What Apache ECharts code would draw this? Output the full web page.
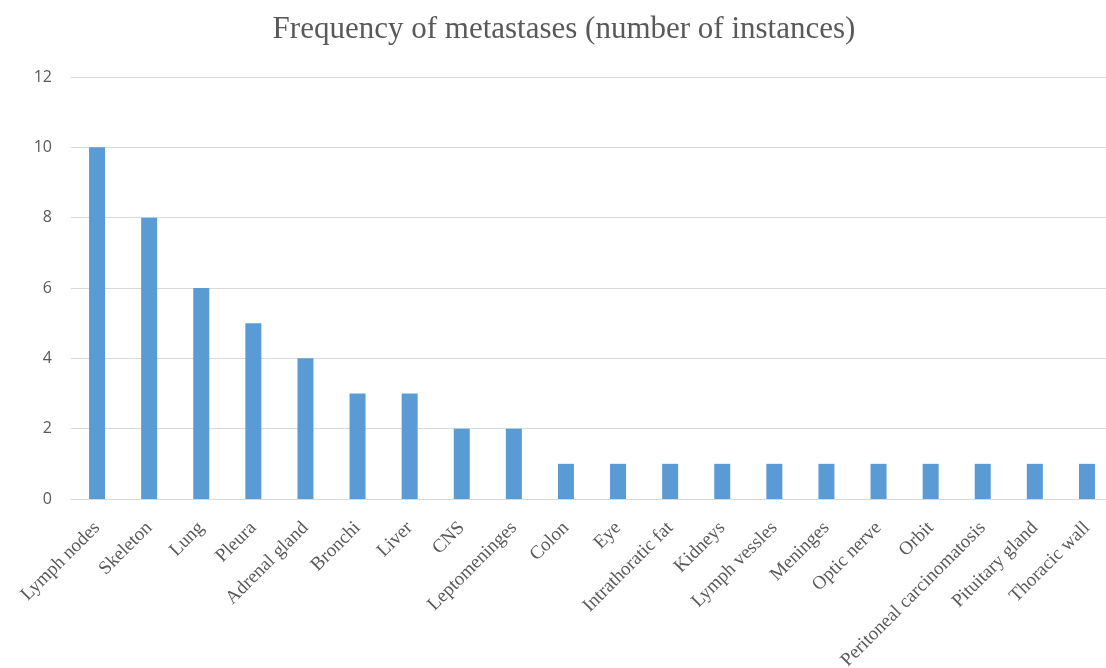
<!DOCTYPE html>
<html>
<head>
<meta charset="utf-8">
<script src="https://cdn.jsdelivr.net/npm/echarts@6/dist/echarts.min.js"></script>
<style>
  html, body { margin: 0; padding: 0; background: #ffffff; }
  #chart { width: 1106px; height: 668px; }
</style>
</head>
<body>
<div id="chart"></div>
<script>
// Sites of metastasis and how many instances were recorded at each
const sites = [
  'Lymph nodes', 'Skeleton', 'Lung', 'Pleura', 'Adrenal gland', 'Bronchi',
  'Liver', 'CNS', 'Leptomeninges', 'Colon', 'Eye', 'Intrathoratic fat',
  'Kidneys', 'Lymph vessles', 'Meninges', 'Optic nerve', 'Orbit',
  'Peritoneal carcinomatosis', 'Pituitary gland', 'Thoracic wall'
];
const instances = [10, 8, 6, 5, 4, 3, 3, 2, 2, 1, 1, 1, 1, 1, 1, 1, 1, 1, 1, 1];
const yTicks = { min: 0, max: 12, interval: 2 };
const chartTitle = 'Frequency of metastases (number of instances)';

const chart = echarts.init(document.getElementById('chart'), null, { renderer: 'canvas' });

chart.setOption({
  backgroundColor: '#ffffff',
  animation: false,
  title: {
    text: chartTitle,
    left: 559,
    textAlign: 'center',
    top: 9,
    textStyle: {
      fontFamily: '"Liberation Serif", "Times New Roman", serif',
      fontSize: 31,
      fontWeight: 'normal',
      color: '#595959'
    }
  },
  grid: {
    left: 71,
    top: 77,
    width: 1042,
    height: 422,
    containLabel: false,
    outerBoundsMode: 'none'
  },
  xAxis: {
    type: 'category',
    data: sites,
    axisLine: { lineStyle: { color: '#d9d9d9', width: 1 } },
    axisTick: { show: false },
    axisLabel: {
      interval: 0,
      rotate: 45,
      margin: 26,
      fontFamily: '"Liberation Serif", "Times New Roman", serif',
      fontSize: 19,
      color: '#595959'
    }
  },
  yAxis: {
    type: 'value',
    min: yTicks.min,
    max: yTicks.max,
    interval: yTicks.interval,
    axisLine: { show: false },
    axisTick: { show: false },
    splitLine: { lineStyle: { color: '#d9d9d9', width: 1 } },
    axisLabel: {
      margin: 19,
      fontFamily: '"Open Sans", "DejaVu Sans", sans-serif',
      fontSize: 16,
      color: '#595959'
    }
  },
  series: [{
    type: 'bar',
    data: instances,
    barWidth: 16,
    itemStyle: { color: '#5b9bd5' }
  }]
});
</script>
</body>
</html>
